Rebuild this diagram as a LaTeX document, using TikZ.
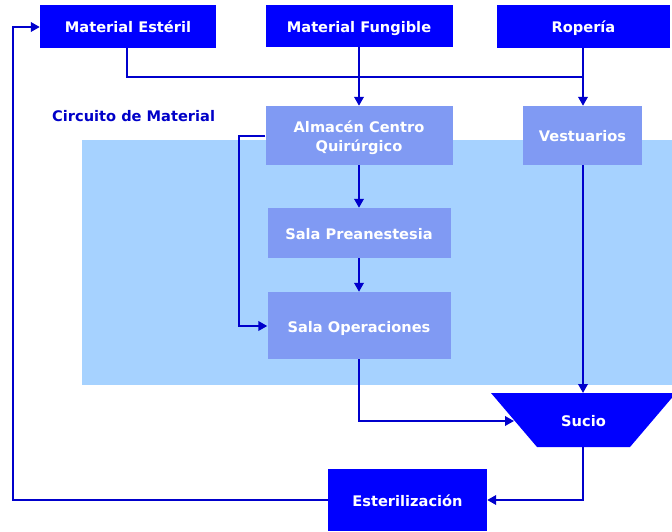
\documentclass[tikz,border=0pt]{standalone}
\usepackage{fontspec}
\setmainfont{DejaVu Sans}
\usetikzlibrary{arrows.meta}
\definecolor{dkbox}{HTML}{0000FF}
\definecolor{midbox}{HTML}{809AF3}
\definecolor{bgblue}{HTML}{A6D2FF}
\definecolor{linec}{HTML}{0000CC}
\definecolor{lblc}{HTML}{0000C8}
\begin{document}
\begin{tikzpicture}[x=1pt,y=-1pt,
  every node/.style={font=\fontsize{14.6}{18}\selectfont\bfseries, text=white, inner sep=0pt},
  one/.style={text height=13pt, text depth=0pt},
  dkstyle/.style={fill=dkbox, one},
  midstyle/.style={fill=midbox, one},
  conn/.style={draw=linec, line width=2pt},
  arr/.style={conn, -{Triangle[length=9pt,width=9.5pt]}}]
\useasboundingbox (0,0) rectangle (672,532);
% background
\fill[bgblue] (82,140) rectangle (672,385);
% trapezoid
\fill[dkbox] (491,393) -- (676,393) -- (630,447) -- (537,447) -- cycle;
% nodes
\node[dkstyle, minimum width=176pt, minimum height=43pt] (ester) at (128,26.5) {Material Estéril};
\node[dkstyle, minimum width=187pt, minimum height=42pt] (fung) at (359,26) {Material Fungible};
\node[dkstyle, minimum width=173pt, minimum height=43pt] (rop) at (583.5,26.5) {Ropería};
\node[fill=midbox, minimum width=187pt, minimum height=59pt, text height=10pt, text depth=15pt] (alm) at (359,135.5) {\begin{tabular}[t]{@{}c@{}}Almacén Centro\\Quirúrgico\end{tabular}};
\node[midstyle, minimum width=119pt, minimum height=59pt] (vest) at (582.5,135.5) {Vestuarios};
\node[midstyle, minimum width=183pt, minimum height=50pt] (pre) at (359,233) {Sala Preanestesia};
\node[midstyle, minimum width=183pt, minimum height=67pt] (ope) at (359,325.5) {Sala Operaciones};
\node[dkstyle, minimum width=159pt, minimum height=62pt] (esteril) at (407.5,500) {Esterilización};
\node[one] (sucio) at (583.5,419.5) {Sucio};
\node[one, text=lblc, anchor=west] (circ) at (52,115) {Circuito de Material};
\coordinate (sucioT) at (583,393);
\coordinate (sucioB) at (583,447);
\coordinate (sucioL) at (514,421);
\coordinate (jn) at (583,77);
\coordinate (lft) at (13,27);
% connectors
\draw[conn] (ester.south -| 127,0) |- (jn);
\draw[arr] (fung.south) -- (alm.north);
\draw[arr] (rop.south -| jn) -- (vest.north -| jn);
\draw[arr] (alm.south) -- (pre.north);
\draw[arr] (pre.south) -- (ope.north);
\draw[arr] (alm.west |- 0,136) -- (238.5,136) |- (ope.west |- 0,326);
\draw[arr] (ope.south) |- (sucioL);
\draw[arr] (vest.south -| sucioT) -- (sucioT);
\draw[arr] (sucioB) |- (esteril.east);
\draw[arr] (esteril.west) -| (lft) -- (ester.west |- lft);
\end{tikzpicture}
\end{document}
